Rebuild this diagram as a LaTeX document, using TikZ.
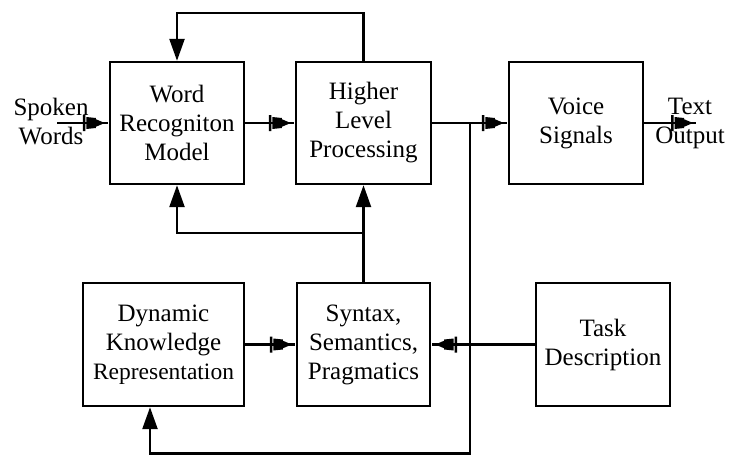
\documentclass[tikz,border=0pt]{standalone}
\usepackage{fontspec}
\setmainfont{Liberation Serif}
\usetikzlibrary{arrows.meta}

% Flow tip: a bar, a filled block and a small pointed triangle
\pgfdeclarearrow{
  name = Flow,
  setup code = {
    \pgfarrowssettipend{0pt}
    \pgfarrowssetbackend{-26pt}
    \pgfarrowssetlineend{-1pt}
    \pgfarrowshullpoint{0pt}{0pt}
    \pgfarrowshullpoint{-26pt}{8pt}
    \pgfarrowshullpoint{-26pt}{-8pt}
  },
  drawing code = {
    % bar
    \pgfpathrectanglecorners{\pgfpoint{-26pt}{-8pt}}{\pgfpoint{-23.5pt}{8pt}}
    % block
    \pgfpathmoveto{\pgfpoint{-22.5pt}{6pt}}
    \pgfpathlineto{\pgfpoint{-13pt}{5pt}}
    \pgfpathlineto{\pgfpoint{-13pt}{-5pt}}
    \pgfpathlineto{\pgfpoint{-22.5pt}{-6pt}}
    \pgfpathclose
    % small pointed tip
    \pgfpathmoveto{\pgfpoint{-13pt}{3.8pt}}
    \pgfpathlineto{\pgfpoint{-4pt}{0pt}}
    \pgfpathlineto{\pgfpoint{-13pt}{-3.8pt}}
    \pgfpathclose
    \pgfusepathqfill
  },
  defaults = {}
}

\begin{document}
\begin{tikzpicture}[x=1pt,y=-1pt,
  line width=2.4pt,
  block/.style={draw, rectangle, inner sep=0pt, align=center,
    font=\fontsize{25}{29}\selectfont},
  lbl/.style={align=center, inner sep=0pt, font=\fontsize{25}{29}\selectfont},
  flow/.style={-Flow},
  feed/.style={-{Triangle[length=22pt,width=15pt]}}]

  \useasboundingbox (0,0) rectangle (730,455);

  % processing blocks
  \node[block, minimum width=134pt, minimum height=122pt] (word)   at (177,123)   {Word\\Recogniton\\Model};
  \node[block, minimum width=135pt, minimum height=122pt] (higher) at (363.5,123) {Higher\\Level\\Processing};
  \node[block, minimum width=134pt, minimum height=122pt] (voice)  at (576,123)   {Voice\\Signals};
  \node[block, minimum width=161pt, minimum height=123pt] (dyn)    at (163.5,344.5)
    {Dynamic\\Knowledge\\{\fontsize{23.5}{29}\selectfont Representation}};
  \node[block, minimum width=133pt, minimum height=123pt] (syn)    at (363.5,344.5) {Syntax,\\Semantics,\\Pragmatics};
  \node[block, minimum width=134pt, minimum height=123pt] (task)   at (603,344.5)   {Task\\Description};

  % external input / output labels
  \node[lbl] (spoken) at (51,122) {Spoken\\Words};
  \node[lbl] (textout) at (690,123) {Text\\Output};

  % free ends and routing points
  \coordinate (inS)  at (57,123);
  \coordinate (outT) at (697,123);
  \coordinate (jn)   at (470,123);
  \coordinate (topY) at (0,13);
  \coordinate (midY) at (0,233);
  \coordinate (botY) at (0,453.5);
  \coordinate (dynX) at (150,0);

  % forward path
  \draw[flow] (inS) -- (word.west);
  \draw[flow] (word.east) -- (higher.west);
  \draw[flow] (higher.east) -- (voice.west);
  \draw[flow] (voice.east) -- (outT);

  % feedback from higher level processing to word recognition
  \draw[feed] (higher.north) -- (higher.north |- topY) -- (word.north |- topY) -- (word.north);

  % syntax/semantics feeding upward
  \draw[feed] (syn.north) -- (higher.south);
  \draw[feed] (syn.north |- midY) -- (word.south |- midY) -- (word.south);

  % knowledge and task description into syntax block
  \draw[flow] (dyn.east) -- (syn.west);
  \draw[flow] (task.west) -- (syn.east);

  % output loop back into dynamic knowledge
  \draw[feed] (jn) -- (jn |- botY) -- (dynX |- botY) -- (dynX |- dyn.south);
\end{tikzpicture}
\end{document}
